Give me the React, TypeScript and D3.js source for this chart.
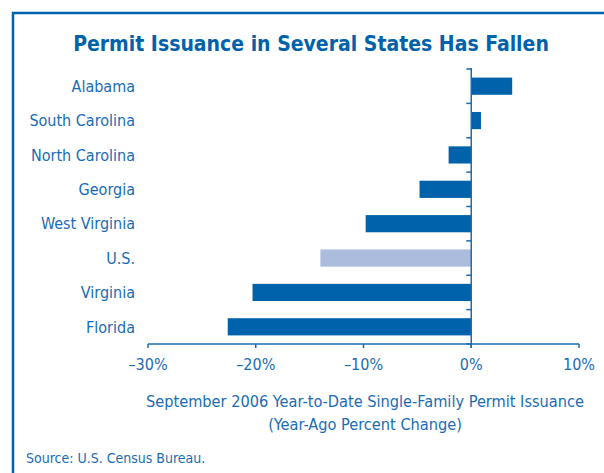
import React from "react";
import * as d3 from "d3";

const categories = ["Alabama", "South Carolina", "North Carolina", "Georgia", "West Virginia", "U.S.", "Virginia", "Florida"];
const values = [3.8, 0.9, -2.1, -4.8, -9.8, -14.0, -20.3, -22.6];
const highlight = ["U.S."];
const xTicks = [-30, -20, -10, 0, 10];
const xTickLabels = ["\u201330%", "\u201320%", "\u201310%", "0%", "10%"];
const title = "Permit Issuance in Several States Has Fallen";
const axisTitle = ["September 2006 Year-to-Date Single-Family Permit Issuance", "(Year-Ago Percent Change)"];
const source = "Source: U.S. Census Bureau.";

const W = 604;
const H = 473;
const DARK = "#0062ab";
const LIGHT = "#abbcdd";
const TEXT = "#1a6cb4";
const FONT = "'Liberation Sans Narrow', 'DejaVu Sans Condensed', 'Roboto', sans-serif";

export default function App() {
  const x = d3.scaleLinear().domain([-30, 10]).range([148, 579]);
  const y = d3.scaleBand<string>().domain(categories).range([69, 344]).paddingInner(0.5).paddingOuter(0.25);
  const x0 = x(0);
  const ticksY = d3.range(categories.length + 1).map((i) => 69 + i * y.step());
  return (
    <svg width={W} height={H} style={{ position: "absolute", left: 0, top: 0, display: "block", background: "#fff" }} fontFamily={FONT}>
      <rect x={0} y={0} width={W} height={H} fill="#fff" />
      <path d={`M13,${H} L13,13 L${W},13`} fill="none" stroke={DARK} strokeWidth={2.5} />
      <text x={311} y={51} textAnchor="middle" fontSize={21} fontWeight="bold" fill={DARK}>
        {title}
      </text>
      {categories.map((c, i) => {
        const v = values[i];
        return (
          <rect
            key={c}
            x={Math.min(x(v), x0)}
            y={y(c) as number}
            width={Math.abs(x(v) - x0)}
            height={y.bandwidth()}
            fill={highlight.includes(c) ? LIGHT : DARK}
          />
        );
      })}
      {categories.map((c) => (
        <text key={c} x={135} y={(y(c) as number) + y.bandwidth() / 2} dy="0.36em" textAnchor="end" fontSize={16} fill={TEXT}>
          {c}
        </text>
      ))}
      <line x1={x0} x2={x0} y1={68} y2={348} stroke={TEXT} strokeWidth={1.5} />
      {ticksY.map((t, i) => (
        <line key={i} x1={x0 - 5} x2={x0} y1={t} y2={t} stroke={TEXT} strokeWidth={1.5} />
      ))}
      <line x1={x(-30)} x2={x(10)} y1={344} y2={344} stroke={TEXT} strokeWidth={1.5} />
      {xTicks.map((t, i) => (
        <g key={t}>
          <line x1={x(t)} x2={x(t)} y1={344} y2={348} stroke={TEXT} strokeWidth={1.5} />
          <text x={x(t)} y={370} textAnchor="middle" fontSize={16} fill={TEXT}>
            {xTickLabels[i]}
          </text>
        </g>
      ))}
      {axisTitle.map((t, i) => (
        <text key={i} x={365} y={407 + i * 23} textAnchor="middle" fontSize={16.2} fill={TEXT}>
          {t}
        </text>
      ))}
      <text x={26} y={463} fontSize={14} fill={TEXT}>
        {source}
      </text>
    </svg>
  );
}
